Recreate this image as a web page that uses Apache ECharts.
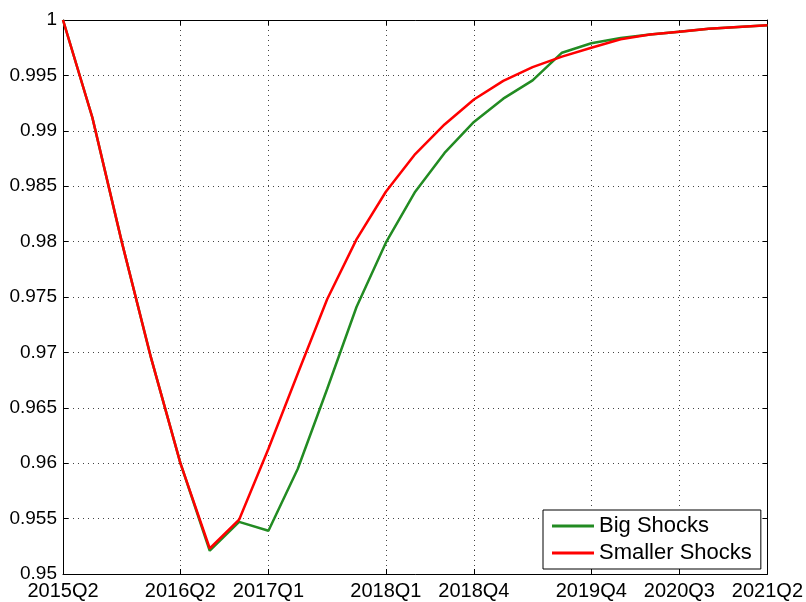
<!DOCTYPE html>
<html>
<head>
<meta charset="utf-8">
<script src="https://cdn.jsdelivr.net/npm/echarts@6/dist/echarts.min.js"></script>
<style>html,body{margin:0;padding:0;background:#fff}#c{width:806px;height:602px}</style>
</head>
<body>
<div id="c"></div>
<script>
var quarters = ['2015Q2','2015Q3','2015Q4','2016Q1','2016Q2','2016Q3','2016Q4','2017Q1','2017Q2','2017Q3','2017Q4','2018Q1','2018Q2','2018Q3','2018Q4','2019Q1','2019Q2','2019Q3','2019Q4','2020Q1','2020Q2','2020Q3','2020Q4','2021Q1','2021Q2'];
var shownTicks = ['2015Q2','2016Q2','2017Q1','2018Q1','2018Q4','2019Q4','2020Q3','2021Q2'];
var bigShocks = [1.0, 0.9912, 0.9800, 0.9695, 0.9600, 0.9521, 0.9547, 0.9539, 0.9595, 0.9667, 0.9741, 0.9799, 0.9845, 0.9880, 0.9908, 0.9929, 0.99455, 0.99705, 0.9979, 0.99837, 0.9987, 0.99895, 0.9992, 0.99937, 0.99952];
var smallerShocks = [1.0, 0.9912, 0.9800, 0.9695, 0.9600, 0.9523, 0.9549, 0.9613, 0.9681, 0.9748, 0.9802, 0.9845, 0.9879, 0.99057, 0.99283, 0.99451, 0.99575, 0.99669, 0.9975, 0.99826, 0.9987, 0.99895, 0.9992, 0.99937, 0.99952];
var yMin = 0.95, yMax = 1, yStep = 0.005;

var font = 'Liberation Sans, Arial, Helvetica, sans-serif';
function showIdx(i){ return shownTicks.indexOf(quarters[i]) >= 0; }
var gridDots = {show:true, lineStyle:{color:'#444', type:[1,4], width:1}};

var chart = echarts.init(document.getElementById('c'));
chart.setOption({
  animation:false,
  backgroundColor:'#fff',
  textStyle:{fontFamily:font},
  grid:{left:63, top:20, width:705, height:554, containLabel:false},
  legend:{
    data:['Big Shocks','Smaller Shocks'],
    orient:'vertical', left:543, top:510,
    padding:[5,9,5,9], itemGap:5, itemWidth:42, itemHeight:3, icon:'rect',
    borderColor:'#000', borderWidth:1, backgroundColor:'#fff',
    textStyle:{fontFamily:font, fontSize:22, color:'#000'}
  },
  xAxis:[{
    type:'category', data:quarters, boundaryGap:false,
    axisLine:{lineStyle:{color:'#000', width:1}},
    axisTick:{inside:true, length:5, interval:function(i){return showIdx(i);}, lineStyle:{color:'#000'}},
    axisLabel:{interval:function(i){return showIdx(i);}, color:'#000', fontSize:20, fontFamily:font, margin:7},
    splitLine:{show:true, interval:function(i){return showIdx(i);}, lineStyle:{color:'#444', type:[1,4], width:1}}
  },{
    type:'category', data:quarters, boundaryGap:false, position:'top',
    axisLine:{lineStyle:{color:'#000', width:1}},
    axisTick:{inside:true, length:5, interval:function(i){return showIdx(i);}, lineStyle:{color:'#000'}},
    axisLabel:{show:false}, splitLine:{show:false}
  }],
  yAxis:[{
    type:'value', min:yMin, max:yMax, interval:yStep,
    axisLine:{show:true, lineStyle:{color:'#000', width:1}},
    axisTick:{show:true, inside:true, length:5, lineStyle:{color:'#000'}},
    axisLabel:{color:'#000', fontSize:19, fontFamily:font, margin:6},
    splitLine:gridDots
  },{
    type:'value', min:yMin, max:yMax, interval:yStep, position:'right',
    axisLine:{show:true, lineStyle:{color:'#000', width:1}},
    axisTick:{show:true, inside:true, length:5, lineStyle:{color:'#000'}},
    axisLabel:{show:false}, splitLine:{show:false}
  }],
  series:[{
    name:'Big Shocks', type:'line', data:bigShocks, symbol:'none',
    lineStyle:{color:'#228b22', width:2.5}, itemStyle:{color:'#228b22'}, z:3
  },{
    name:'Smaller Shocks', type:'line', data:smallerShocks, symbol:'none',
    lineStyle:{color:'#ff0000', width:2.5}, itemStyle:{color:'#ff0000'}, z:4
  }]
});
</script>
</body>
</html>
